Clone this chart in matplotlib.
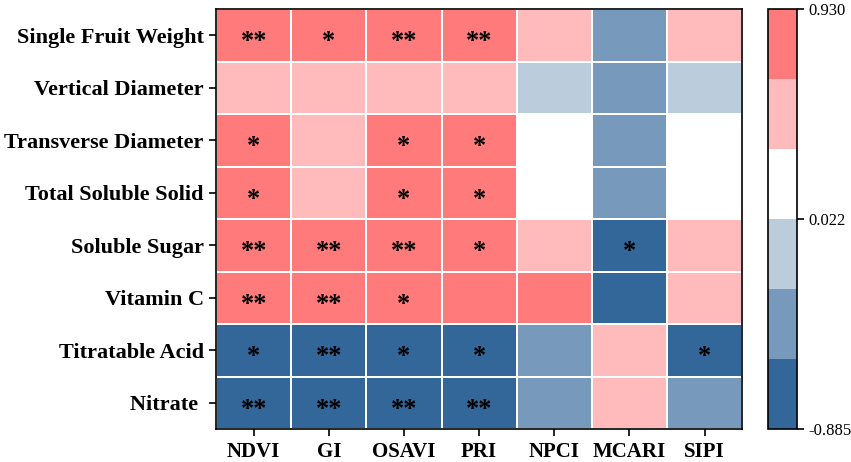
import numpy as np
import matplotlib
matplotlib.use("Agg")
import matplotlib.pyplot as plt
from matplotlib.colors import ListedColormap, BoundaryNorm

plt.rcParams["font.family"] = ["Liberation Serif", "DejaVu Serif"]

# quality traits (rows) vs spectral indices (columns)
traits = ["Single Fruit Weight", "Vertical Diameter", "Transverse Diameter",
          "Total Soluble Solid", "Soluble Sugar", "Vitamin C",
          "Titratable Acid", "Nitrate "]
indices = ["NDVI", "GI", "OSAVI", "PRI", "NPCI", "MCARI", "SIPI"]

# correlation coefficients
corr = np.array([
    [0.930, 0.712, 0.885, 0.861, 0.452, -0.431, 0.418],
    [0.512, 0.476, 0.534, 0.498, -0.142, -0.405, -0.118],
    [0.746, 0.538, 0.731, 0.724, 0.164, -0.392, 0.127],
    [0.738, 0.521, 0.722, 0.715, 0.152, -0.388, 0.115],
    [0.872, 0.846, 0.858, 0.741, 0.463, -0.752, 0.447],
    [0.884, 0.867, 0.782, 0.663, 0.651, -0.654, 0.482],
    [-0.736, -0.842, -0.728, -0.721, -0.417, 0.441, -0.743],
    [-0.885, -0.872, -0.868, -0.859, -0.434, 0.452, -0.456],
])

stars = [
    ["**", "*", "**", "**", "", "", ""],
    ["", "", "", "", "", "", ""],
    ["*", "", "*", "*", "", "", ""],
    ["*", "", "*", "*", "", "", ""],
    ["**", "**", "**", "*", "", "*", ""],
    ["**", "**", "*", "", "", "", ""],
    ["*", "**", "*", "*", "", "", "*"],
    ["**", "**", "**", "**", "", "", ""],
]

vmin, vmax = -0.885, 0.930
colors = ["#336699", "#7799BB", "#BBCCDD", "#FFFFFF", "#FFBBBB", "#FF7B7B"]
bounds = np.linspace(vmin, vmax, len(colors) + 1)
cmap = ListedColormap(colors)
norm = BoundaryNorm(bounds, cmap.N)

fig = plt.figure(figsize=(8.51, 4.62), dpi=100)
ax = fig.add_axes([0.254, 0.0714, 0.618, 0.909])
cax = fig.add_axes([0.9025, 0.0714, 0.034, 0.909])

mesh = ax.pcolormesh(corr, cmap=cmap, norm=norm, edgecolors="white", linewidth=1.2)
ax.set_xlim(0, len(indices))
ax.set_ylim(len(traits), 0)

for i in range(len(traits)):
    for j in range(len(indices)):
        if stars[i][j]:
            ax.text(j + 0.5, i + 0.62, stars[i][j], ha="center", va="center",
                    fontsize=19, fontweight="bold", color="black")

ax.set_xticks(np.arange(len(indices)) + 0.5)
ax.set_xticklabels(indices, fontsize=15, fontweight="bold")
ax.set_yticks(np.arange(len(traits)) + 0.5)
ax.set_yticklabels(traits, fontsize=16, fontweight="bold")
ax.tick_params(length=5, width=1.2, pad=4)
for sp in ax.spines.values():
    sp.set_linewidth(1.2)

cb = fig.colorbar(mesh, cax=cax, ticks=[vmax, (vmin + vmax) / 2, vmin])
cb.minorticks_off()
cb.ax.set_yticklabels(["0.930", "0.022", "-0.885"], fontsize=12)
cb.outline.set_linewidth(1.2)
cb.ax.tick_params(length=5, width=1.2, pad=3)

fig.savefig("out.png", dpi=100)
